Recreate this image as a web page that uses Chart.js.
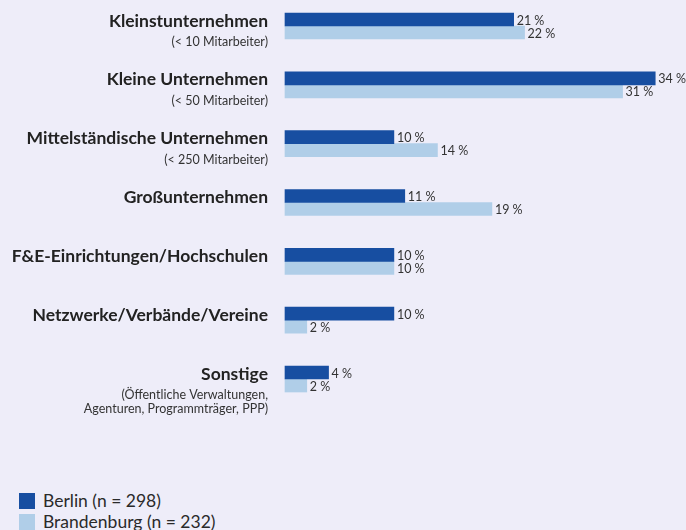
<!DOCTYPE html>
<html>
<head>
<meta charset="utf-8">
<script src="https://cdn.jsdelivr.net/npm/chart.js@4/dist/chart.umd.min.js"></script>
<style>
  html, body { margin: 0; padding: 0; background: #eeedf9; overflow: hidden; }
  #wrap { position: relative; width: 686px; height: 530px; }
  #chart { position: absolute; left: 0; top: 0; }
  .legend { position: absolute; left: 19px; font-family: Lato, sans-serif; font-size: 17.5px; color: #2a2a2a; line-height: 16px; }
  .legend span { display: inline-block; width: 16px; height: 16px; vertical-align: top; margin-right: 8px; }
</style>
</head>
<body>
<div id="wrap">
  <canvas id="chart" width="686" height="480"></canvas>
  <div class="legend" style="top:493px"><span style="background:#174ea1"></span>Berlin (n = 298)</div>
  <div class="legend" style="top:514px"><span style="background:#b0cee8"></span>Brandenburg (n = 232)</div>
</div>
<script>
  // categories: bold title + optional subtitle lines
  var categories = ['Kleinstunternehmen', 'Kleine Unternehmen', 'Mittelständische Unternehmen', 'Großunternehmen',
                    'F&E-Einrichtungen/Hochschulen', 'Netzwerke/Verbände/Vereine', 'Sonstige'];
  var subtitles = [['(< 10 Mitarbeiter)'], ['(< 50 Mitarbeiter)'], ['(< 250 Mitarbeiter)'], [], [], [],
                   ['(Öffentliche Verwaltungen,', 'Agenturen, Programmträger, PPP)']];
  var berlin = [21, 34, 10, 11, 10, 10, 4];
  var brandenburg = [22, 31, 14, 19, 10, 2, 2];

  // draws the category labels and the value labels
  var labelPlugin = {
    id: 'labels',
    afterDatasetsDraw: function (chart) {
      var c = chart.ctx;
      var yScale = chart.scales.y;
      c.save();
      c.textAlign = 'right';
      c.textBaseline = 'middle';
      for (var i = 0; i < categories.length; i++) {
        var cy = yScale.getPixelForValue(i);
        c.fillStyle = '#222';
        c.font = 'bold 17.5px Lato, sans-serif';
        c.fillText(categories[i], 268, cy - 5);
        c.fillStyle = '#333';
        c.font = '12.5px Lato, sans-serif';
        subtitles[i].forEach(function (s, k) {
          c.fillText(s, 268, cy + 16 + k * 14);
        });
      }
      c.textAlign = 'left';
      c.font = '12.5px Lato, sans-serif';
      c.fillStyle = '#333';
      chart.data.datasets.forEach(function (ds, d) {
        chart.getDatasetMeta(d).data.forEach(function (bar, i) {
          c.fillText(ds.data[i] + ' %', bar.x + 3, bar.y + 1);
        });
      });
      c.restore();
    }
  };

  var ctx = document.getElementById('chart').getContext('2d');
  var chart = new Chart(ctx, {
    type: 'bar',
    data: {
      labels: categories,
      datasets: [
        { label: 'Berlin (n = 298)', data: berlin, backgroundColor: '#174ea1', barThickness: 13, clip: false },
        { label: 'Brandenburg (n = 232)', data: brandenburg, backgroundColor: '#b0cee8', barThickness: 13, clip: false }
      ]
    },
    options: {
      indexAxis: 'y',
      responsive: false,
      animation: false,
      layout: { padding: { left: 285, right: 9, top: 26, bottom: 101 } },
      plugins: { legend: { display: false }, tooltip: { enabled: false } },
      scales: {
        x: { display: false, min: 0, max: 36 },
        y: { display: false, offset: false }
      }
    },
    plugins: [labelPlugin]
  });
</script>
</body>
</html>
